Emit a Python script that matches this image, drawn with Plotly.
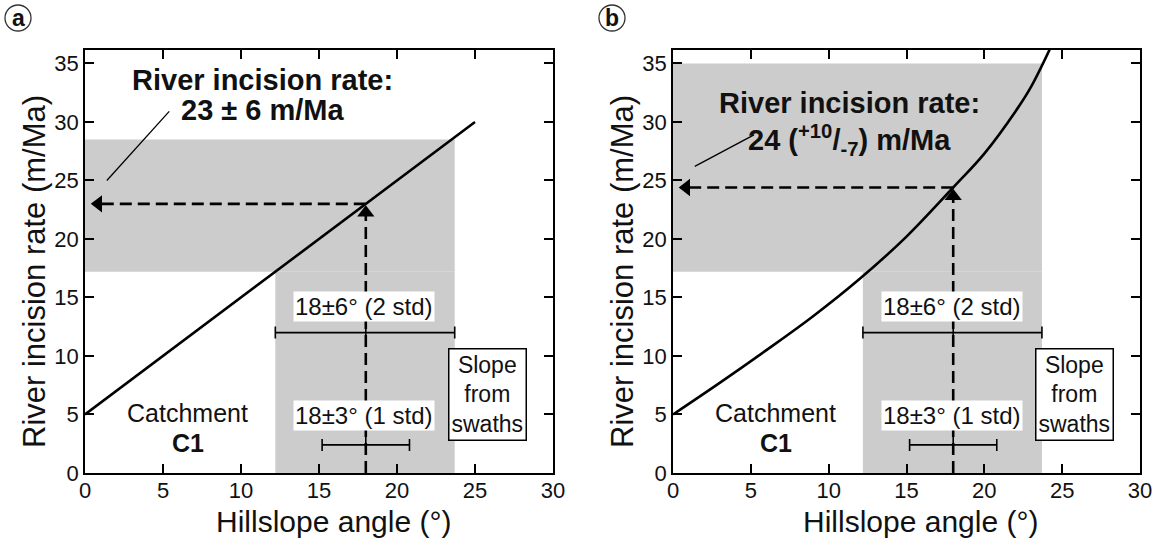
import plotly.graph_objects as go

# ---------------- data ----------------
slope_a = [0, 25]
rate_a = [5, 30]

slope_b = [0, 3, 6, 9, 12, 15, 18, 20, 22, 23, 24.2]
rate_b = [5, 7.7, 10.5, 13.4, 16.6, 20.2, 24.4, 27.3, 30.9, 33.0, 36.2]

mean_slope = 18.0
slope_2std = [12.2, 23.7]
slope_1std = [15.2, 20.8]

rate_val_a = 23.0
rate_band_a = [17.2, 28.5]
rate_val_b = 24.4
rate_band_b = [17.2, 35.0]

x_ticks = [0, 5, 10, 15, 20, 25, 30]
y_ticks = [0, 5, 10, 15, 20, 25, 30, 35]

FONT = "Arial, Liberation Sans, sans-serif"
GREY = "#cccccc"
W, H = 1162, 543

fig = go.Figure()

panels = [
    dict(xa="x", ya="y", xs=slope_a, ys=rate_a, rv=rate_val_a, band=rate_band_a,
         line1_y=33.6, line2_y=31.0, line2="23 ± 6 m/Ma",
         lead=([1.4, 5.4], [25.0, 30.9]), spline=False, x0px=85, x1px=553),
    dict(xa="x2", ya="y2", xs=slope_b, ys=rate_b, rv=rate_val_b, band=rate_band_b,
         line1_y=31.6, line2_y=28.5, line2="24 (<sup>+10</sup>/<sub>-7</sub>) m/Ma",
         lead=([1.4, 5.2], [26.2, 28.9]), spline=True, x0px=673, x1px=1140),
]

shapes = []
annotations = []

for p in panels:
    xr = p["xa"]
    yr = p["ya"]
    # grey bands
    shapes.append(dict(type="rect", xref=xr, yref=yr, x0=0, x1=slope_2std[1],
                       y0=p["band"][0], y1=p["band"][1], fillcolor=GREY,
                       line=dict(width=0), layer="below"))
    shapes.append(dict(type="rect", xref=xr, yref=yr, x0=slope_2std[0], x1=slope_2std[1],
                       y0=0, y1=p["band"][0], fillcolor=GREY,
                       line=dict(width=0), layer="below"))
    # main relation
    fig.add_trace(go.Scatter(x=p["xs"], y=p["ys"], mode="lines", xaxis=xr, yaxis=yr,
                             line=dict(color="black", width=2.6,
                                       shape="spline" if p["spline"] else "linear"),
                             showlegend=False, hoverinfo="skip"))
    # dashed vertical and horizontal arrows
    fig.add_trace(go.Scatter(x=[mean_slope, mean_slope], y=[0, p["rv"] - 1.0], mode="lines",
                             xaxis=xr, yaxis=yr, line=dict(color="black", width=2.6, dash="12px,6px"),
                             showlegend=False, hoverinfo="skip"))
    fig.add_trace(go.Scatter(x=[mean_slope, 0.9], y=[p["rv"], p["rv"]], mode="lines",
                             xaxis=xr, yaxis=yr, line=dict(color="black", width=2.6, dash="12px,6px"),
                             showlegend=False, hoverinfo="skip"))
    fig.add_trace(go.Scatter(x=[0.85], y=[p["rv"]], mode="markers", xaxis=xr, yaxis=yr,
                             marker=dict(symbol="triangle-left", size=15, color="black"),
                             showlegend=False, hoverinfo="skip"))
    fig.add_trace(go.Scatter(x=[mean_slope], y=[p["rv"] - 0.75], mode="markers", xaxis=xr, yaxis=yr,
                             marker=dict(symbol="triangle-up", size=15, color="black"),
                             showlegend=False, hoverinfo="skip"))
    # leader line
    fig.add_trace(go.Scatter(x=p["lead"][0], y=p["lead"][1], mode="lines", xaxis=xr, yaxis=yr,
                             line=dict(color="black", width=1.3),
                             showlegend=False, hoverinfo="skip"))
    # error bars (2 std and 1 std)
    for (lo, hi), yv in ((slope_2std, 12.0), (slope_1std, 2.4)):
        fig.add_trace(go.Scatter(x=[mean_slope], y=[yv], mode="markers", xaxis=xr, yaxis=yr,
                                 marker=dict(symbol="line-ns-open", size=13, color="black",
                                             line=dict(color="black", width=1.6)),
                                 error_x=dict(type="data", symmetric=False,
                                              array=[hi - mean_slope], arrayminus=[mean_slope - lo],
                                              width=6, thickness=1.6, color="black"),
                                 showlegend=False, hoverinfo="skip"))
    # texts
    annotations += [
        dict(xref=xr, yref=yr, x=11.35, y=p["line1_y"], text="<b>River incision rate:</b>",
             showarrow=False, font=dict(size=29, family=FONT, color="#111")),
        dict(xref=xr, yref=yr, x=11.35, y=p["line2_y"], text="<b>" + p["line2"] + "</b>",
             showarrow=False, font=dict(size=29, family=FONT, color="#111")),
        dict(xref=xr, yref=yr, x=17.9, y=14.2, text="18±6° (2 std)", showarrow=False,
             bgcolor="white", borderpad=1, font=dict(size=24, family=FONT, color="#111")),
        dict(xref=xr, yref=yr, x=17.9, y=4.9, text="18±3° (1 std)", showarrow=False,
             bgcolor="white", borderpad=1, font=dict(size=24, family=FONT, color="#111")),
        dict(xref=xr, yref=yr, x=25.8, y=6.7, text="Slope<br>from<br>swaths", showarrow=False,
             bgcolor="white", bordercolor="black", borderwidth=1.5, borderpad=2,
             font=dict(size=23, family=FONT, color="#111")),
        dict(xref=xr, yref=yr, x=6.6, y=5.1, text="Catchment", showarrow=False,
             font=dict(size=25, family=FONT, color="#111")),
        dict(xref=xr, yref=yr, x=6.6, y=2.6, text="<b>C1</b>", showarrow=False,
             font=dict(size=25, family=FONT, color="#111")),
    ]
    # axis titles
    xc = (p["x0px"] + p["x1px"]) / 2 + 14
    annotations.append(dict(xref="paper", yref="paper", x=xc / W, y=1 - 521 / H,
                            xanchor="center", yanchor="middle", showarrow=False,
                            text="Hillslope angle (°)",
                            font=dict(size=30, family=FONT, color="#111")))
    annotations.append(dict(xref="paper", yref="paper", x=(p["x0px"] - 51) / W, y=1 - 272 / H,
                            xanchor="center", yanchor="middle", showarrow=False, textangle=-90,
                            text="River incision rate (m/Ma)",
                            font=dict(size=31, family=FONT, color="#111")))

# panel labels (circled letters)
for cx, letter in ((18, "a"), (612, "b")):
    shapes.append(dict(type="circle", xref="paper", yref="paper",
                       x0=(cx - 13) / W, x1=(cx + 13) / W,
                       y0=1 - 31 / H, y1=1 - 5 / H,
                       line=dict(color="#333", width=1.3)))
    annotations.append(dict(xref="paper", yref="paper", x=cx / W, y=1 - 18 / H,
                            xanchor="center", yanchor="middle",
                            text="<b>" + letter + "</b>", showarrow=False,
                            font=dict(size=23, family=FONT, color="#111")))

axis_common = dict(showline=True, linecolor="black", linewidth=1.8, mirror="ticks",
                   ticks="inside", ticklen=9, tickwidth=1.6, tickcolor="black",
                   showgrid=False, zeroline=False, automargin=False,
                   tickfont=dict(size=22, family=FONT, color="#111"))

def xaxis(dom, anchor):
    d = dict(axis_common)
    d.update(domain=dom, anchor=anchor, range=[0, 30], tickvals=x_ticks,
             ticklabelstandoff=-3)
    return d

def yaxis(anchor):
    d = dict(axis_common)
    d.update(domain=[70 / H, 493 / H], anchor=anchor, range=[0, 36.15], tickvals=y_ticks)
    return d

fig.update_layout(
    width=W, height=H,
    margin=dict(l=0, r=0, t=0, b=0),
    paper_bgcolor="white", plot_bgcolor="white",
    xaxis=xaxis([85 / W, 553 / W], "y"),
    yaxis=yaxis("x"),
    xaxis2=xaxis([673 / W, 1140 / W], "y2"),
    yaxis2=yaxis("x2"),
    shapes=shapes,
    annotations=annotations,
)

fig.write_html("out.html")
